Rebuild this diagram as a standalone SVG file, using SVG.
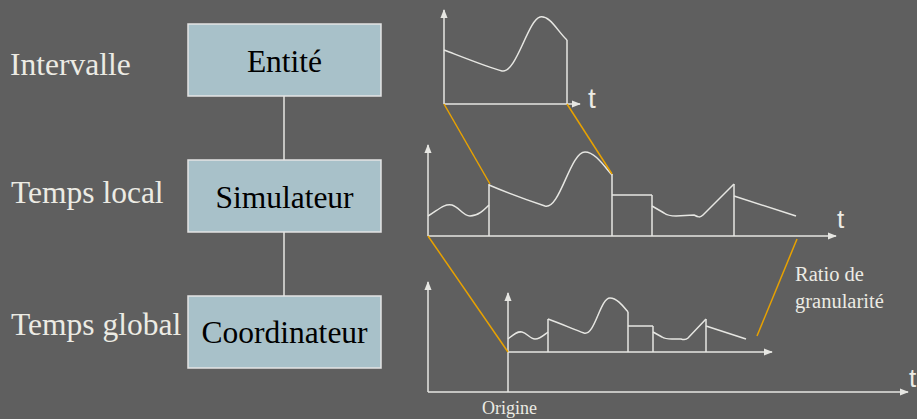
<svg xmlns="http://www.w3.org/2000/svg" width="917" height="419" viewBox="0 0 917 419">
<defs>
<style>
.bg{fill:#5f5f5f}
.box{fill:#a8c1c9;stroke:#e4e4e4;stroke-width:1.5}
.btxt{font-family:"Liberation Serif","Times New Roman",serif;font-size:31.5px;fill:#000;text-anchor:middle}
.ltxt{font-family:"Liberation Serif","Times New Roman",serif;font-size:31.5px;fill:#ecebe4}
.stxt{font-family:"Liberation Serif","Times New Roman",serif;fill:#ecebe4}
.ttxt{font-family:"Liberation Sans",Arial,sans-serif;fill:#ecebe4}
.ln{fill:none;stroke:#e6e6e2;stroke-width:1.5}
.ax{fill:none;stroke:#e6e6e2;stroke-width:1.5}
.or{fill:none;stroke:#e8a200;stroke-width:1.5}
</style>
<marker id="arr" viewBox="0 0 10 10" refX="9" refY="5" markerWidth="9" markerHeight="9" markerUnits="userSpaceOnUse" orient="auto">
<path d="M0,1 L10,5 L0,9 Z" fill="#e6e6e2"/>
</marker>
</defs>
<rect class="bg" x="0" y="0" width="917" height="419"/>

<g id="connectors">
<line class="ln" x1="284" y1="96" x2="284" y2="160"/>
<line class="ln" x1="284" y1="232" x2="284" y2="296"/>
</g>

<g id="node-entite">
<rect class="box" x="188" y="24" width="193" height="72"/>
<text class="btxt" x="284.5" y="72">Entité</text>
</g>
<g id="node-simulateur">
<rect class="box" x="188" y="160" width="193" height="72"/>
<text class="btxt" x="284.5" y="208">Simulateur</text>
</g>
<g id="node-coordinateur">
<rect class="box" x="188" y="296" width="193" height="72"/>
<text class="btxt" x="284.5" y="343">Coordinateur</text>
</g>

<g id="labels">
<text class="ltxt" x="10" y="75">Intervalle</text>
<text class="ltxt" x="11" y="203">Temps local</text>
<text class="ltxt" x="11" y="335">Temps global</text>
</g>

<g id="chart-top">
<line class="ax" x1="444" y1="104" x2="444" y2="10" marker-end="url(#arr)"/>
<line class="ax" x1="444" y1="104" x2="580" y2="104" marker-end="url(#arr)"/>
<line class="ln" x1="567" y1="40" x2="567" y2="104"/>
<path class="ln" d="M444,50 C470,60 490,68 502,71 C516,74 528,20 540,17 C550,15 558,32 567,40"/>
<text class="ttxt" x="588" y="108" font-size="28">t</text>
</g>

<g id="chart-middle">
<line class="ax" x1="428" y1="236" x2="428" y2="145" marker-end="url(#arr)"/>
<line class="ax" x1="428" y1="236" x2="836" y2="236" marker-end="url(#arr)"/>
<line class="ln" x1="489" y1="184" x2="489" y2="236"/>
<line class="ln" x1="612" y1="174" x2="612" y2="236"/>
<line class="ln" x1="652" y1="195" x2="652" y2="236"/>
<line class="ln" x1="734" y1="184" x2="734" y2="236"/>
<line class="ln" x1="612" y1="195" x2="652" y2="195"/>
<path class="ln" d="M428,216 C437,211 444,203 452,205 C459,207 463,216 470,216 C478,216 484,210 489,205"/>
<path class="ln" d="M489,185 C510,194 530,201 545,206 C560,210 570,152 585,152 C595,152 604,166 612,175"/>
<path class="ln" d="M652,206 L664,213 C668,216 672,216 676,216 L694,215 C698,217 700,218 703,215 L734,184"/>
<line class="ln" x1="734" y1="196" x2="796" y2="216"/>
<text class="ttxt" x="837" y="228" font-size="26">t</text>
</g>

<g id="chart-bottom">
<line class="ax" x1="428" y1="392" x2="428" y2="282" marker-end="url(#arr)"/>
<line class="ax" x1="428" y1="392" x2="908" y2="392" marker-end="url(#arr)"/>
<line class="ax" x1="508" y1="392" x2="508" y2="293" marker-end="url(#arr)"/>
<line class="ax" x1="508" y1="352" x2="772" y2="352" marker-end="url(#arr)"/>
<line class="ln" x1="548" y1="319" x2="548" y2="352"/>
<line class="ln" x1="628" y1="312" x2="628" y2="352"/>
<line class="ln" x1="653" y1="326" x2="653" y2="352"/>
<line class="ln" x1="706" y1="319" x2="706" y2="352"/>
<line class="ln" x1="628" y1="326" x2="653" y2="326"/>
<path class="ln" d="M508,339 C513,335 517,331 522,332 C527,333 530,339 535,339 C540,339 544,335 548,332"/>
<path class="ln" d="M548,319 C562,324 575,330 584,333 C595,336 600,298 610,298 C617,298 623,306 628,312"/>
<path class="ln" d="M653,332 L662,337 C665,339 668,339 672,339 L681,339 C684,340 686,340 688,338 L706,319"/>
<line class="ln" x1="706" y1="326" x2="746" y2="339"/>
<text class="ttxt" x="909" y="387" font-size="26">t</text>
<text class="stxt" x="482" y="414" font-size="18">Origine</text>
<text class="stxt" x="795" y="281" font-size="20.5">Ratio de</text>
<text class="stxt" x="795" y="308" font-size="20.5">granularité</text>
</g>

<g id="projection-lines">
<line class="or" x1="444" y1="104" x2="490" y2="184"/>
<line class="or" x1="567" y1="104" x2="612" y2="174"/>
<line class="or" x1="428" y1="236" x2="508" y2="352"/>
<line class="or" x1="797" y1="239" x2="757" y2="336"/>
</g>
</svg>
